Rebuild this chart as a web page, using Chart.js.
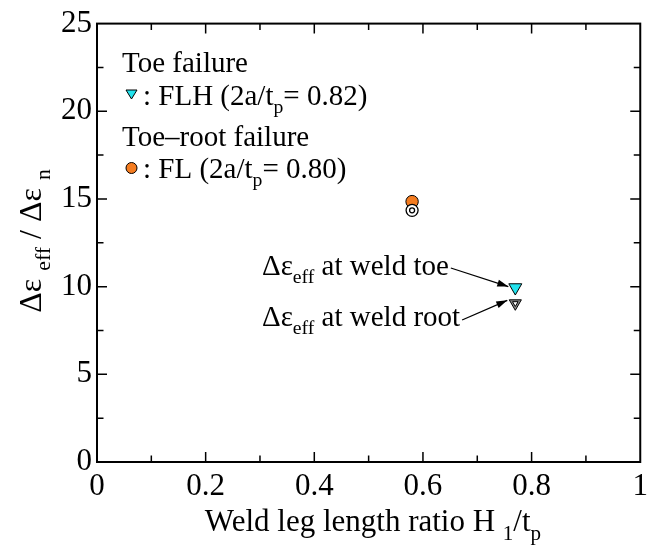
<!DOCTYPE html>
<html><head><meta charset="utf-8">
<script src="https://cdn.jsdelivr.net/npm/chart.js@4.4.1/dist/chart.umd.min.js"></script>
<style>html,body{margin:0;padding:0;background:#fff}#w{width:654px;height:551px}</style>
</head><body><div id="w"><canvas id="c" width="654" height="551"></canvas></div>
<script>
// ---- data ----
const specimens = ['FLH', 'FL'];
const h1Ratio = [0.77, 0.58];          // H1/tp
const effAtToe = [9.95, 14.85];        // Δε_eff / Δε_n at weld toe
const effAtRoot = [9.05, 14.35];       // Δε_eff / Δε_n at weld root
const xMajorTicks = [0, 0.2, 0.4, 0.6, 0.8, 1];
const xMinorTicks = [0.1, 0.3, 0.5, 0.7, 0.9];
const yMajorTicks = [0, 5, 10, 15, 20, 25];
const yMinorTicks = [2.5, 7.5, 12.5, 17.5, 22.5];

const FONT = '"Liberation Serif", "Times New Roman", serif';
const pt = i => [{x: h1Ratio[i], y: effAtToe[i]}];
const pr = i => [{x: h1Ratio[i], y: effAtRoot[i]}];

function rich(ctx, x, y, segs, size, align) {
  const w = segs.reduce((a, s) => { ctx.font = (s[1] ? size*0.68 : size) + 'px ' + FONT; return a + ctx.measureText(s[0]).width; }, 0);
  let cx = align === 'center' ? x - w/2 : x;
  ctx.textAlign = 'left'; ctx.textBaseline = 'alphabetic'; ctx.fillStyle = '#000';
  segs.forEach(s => {
    ctx.font = (s[1] ? size*0.68 : size) + 'px ' + FONT;
    ctx.fillText(s[0], cx, y + (s[1] ? size*0.28 : 0));
    cx += ctx.measureText(s[0]).width;
  });
  return cx;
}
function arrow(ctx, x1, y1, x2, y2) {
  ctx.save(); ctx.strokeStyle = '#000'; ctx.fillStyle = '#000'; ctx.lineWidth = 1.3;
  ctx.beginPath(); ctx.moveTo(x1, y1); ctx.lineTo(x2, y2); ctx.stroke();
  const a = Math.atan2(y2 - y1, x2 - x1), L = 11, W = 3.5;
  ctx.beginPath(); ctx.moveTo(x2, y2);
  ctx.lineTo(x2 - L*Math.cos(a) + W*Math.sin(a), y2 - L*Math.sin(a) - W*Math.cos(a));
  ctx.lineTo(x2 - L*Math.cos(a) - W*Math.sin(a), y2 - L*Math.sin(a) + W*Math.cos(a));
  ctx.closePath(); ctx.fill(); ctx.restore();
}

const deco = {
  id: 'deco',
  afterDraw(chart) {
    const ctx = chart.ctx, a = chart.chartArea, xs = chart.scales.x, ys = chart.scales.y;
    ctx.save();
    ctx.strokeStyle = '#000'; ctx.lineWidth = 2;
    ctx.strokeRect(a.left, a.top, a.right - a.left, a.bottom - a.top);
    ctx.lineWidth = 1.5;
    const tk = (vals, len) => {
      vals.forEach(v => {
        const px = xs.getPixelForValue(v);
        ctx.beginPath(); ctx.moveTo(px, a.bottom); ctx.lineTo(px, a.bottom - len);
        ctx.moveTo(px, a.top); ctx.lineTo(px, a.top + len); ctx.stroke();
      });
    };
    const tky = (vals, len) => {
      vals.forEach(v => {
        const py = ys.getPixelForValue(v);
        ctx.beginPath(); ctx.moveTo(a.left, py); ctx.lineTo(a.left + len, py);
        ctx.moveTo(a.right, py); ctx.lineTo(a.right - len, py); ctx.stroke();
      });
    };
    tk(xMajorTicks.slice(1, -1), 10); tk(xMinorTicks, 6.5);
    tky(yMajorTicks.slice(1, -1), 10); tky(yMinorTicks, 6.5);

    // legend (in-plot)
    rich(ctx, 122, 72, [['Toe failure']], 29);
    ctx.save(); ctx.fillStyle = '#22E3EE'; ctx.strokeStyle = '#000'; ctx.lineWidth = 1;
    ctx.beginPath(); ctx.moveTo(126, 90); ctx.lineTo(137, 90); ctx.lineTo(131.5, 99); ctx.closePath(); ctx.fill(); ctx.stroke(); ctx.restore();
    rich(ctx, 143, 105, [[': FLH (2a/t'], ['p', 1], ['= 0.82)']], 29);
    rich(ctx, 122, 146, [['Toe\u2013root failure']], 29);
    ctx.save(); ctx.fillStyle = '#F47C20'; ctx.strokeStyle = '#000'; ctx.lineWidth = 1;
    ctx.beginPath(); ctx.arc(131.5, 168, 5.5, 0, Math.PI*2); ctx.fill(); ctx.stroke(); ctx.restore();
    rich(ctx, 143, 178, [[': FL (2a/t'], ['p', 1], ['= 0.80)']], 29);

    // annotations
    const e1 = rich(ctx, 262, 275, [['\u0394\u03b5'], ['eff', 1], [' at weld toe']], 29);
    const e2 = rich(ctx, 262, 326, [['\u0394\u03b5'], ['eff', 1], [' at weld root']], 29);
    const tx = xs.getPixelForValue(h1Ratio[0]);
    arrow(ctx, e1 + 2, 268, tx - 7, ys.getPixelForValue(effAtToe[0]) - 1);
    arrow(ctx, e2 + 2, 320, tx - 8, ys.getPixelForValue(effAtRoot[0]) - 3);

    // axis titles
    rich(ctx, 373, 531, [['Weld leg length ratio H '], ['1', 1], ['/t'], ['p', 1]], 31, 'center');
    ctx.save(); ctx.translate(41, 241); ctx.rotate(-Math.PI/2);
    rich(ctx, 0, 0, [['\u0394\u03b5 '], ['eff', 1], [' / \u0394\u03b5 '], ['n', 1]], 32, 'center');
    ctx.restore();
    ctx.restore();
  }
};

new Chart(document.getElementById('c'), {
  type: 'scatter',
  data: {
    datasets: [
      {label: 'FLH root inner', data: pr(0), pointStyle: 'triangle', rotation: 180, pointRadius: 3.2, backgroundColor: '#fff', borderColor: '#000', borderWidth: 1, order: 0},
      {label: 'FLH root', data: pr(0), pointStyle: 'triangle', rotation: 180, pointRadius: 7, backgroundColor: '#8a8a8a', borderColor: '#000', borderWidth: 1, order: 1},
      {label: 'FLH toe', data: pt(0), pointStyle: 'triangle', rotation: 180, pointRadius: 7.5, backgroundColor: '#22E3EE', borderColor: '#000', borderWidth: 1, order: 2},
      {label: 'FL root inner', data: pr(1), pointStyle: 'circle', pointRadius: 2.5, backgroundColor: '#fff', borderColor: '#000', borderWidth: 1.3, order: 3},
      {label: 'FL root', data: pr(1), pointStyle: 'circle', pointRadius: 6, backgroundColor: '#fff', borderColor: '#000', borderWidth: 1.3, order: 4},
      {label: 'FL toe', data: pt(1), pointStyle: 'circle', pointRadius: 6.2, backgroundColor: '#F47C20', borderColor: '#000', borderWidth: 1, order: 5}
    ]
  },
  options: {
    responsive: false, animation: false, devicePixelRatio: 1,
    layout: {padding: {top: 20, right: 13, left: 0, bottom: 0}},
    plugins: {legend: {display: false}, tooltip: {enabled: false}},
    scales: {
      x: {
        type: 'linear', min: 0, max: 1,
        afterFit: s => { s.height = 89; },
        afterBuildTicks: s => { s.ticks = xMajorTicks.map(v => ({value: v})); },
        grid: {display: false, drawTicks: false},
        border: {display: false},
        ticks: {color: '#000', font: {family: FONT, size: 31}, padding: 6, maxRotation: 0,
                callback: v => String(v)}
      },
      y: {
        type: 'linear', min: 0, max: 25,
        afterFit: s => { s.width = 97; },
        afterBuildTicks: s => { s.ticks = yMajorTicks.map(v => ({value: v})); },
        grid: {display: false, drawTicks: false},
        border: {display: false},
        ticks: {color: '#000', font: {family: FONT, size: 31}, padding: 5, callback: v => String(v)}
      }
    }
  },
  plugins: [deco]
});
</script></body></html>
